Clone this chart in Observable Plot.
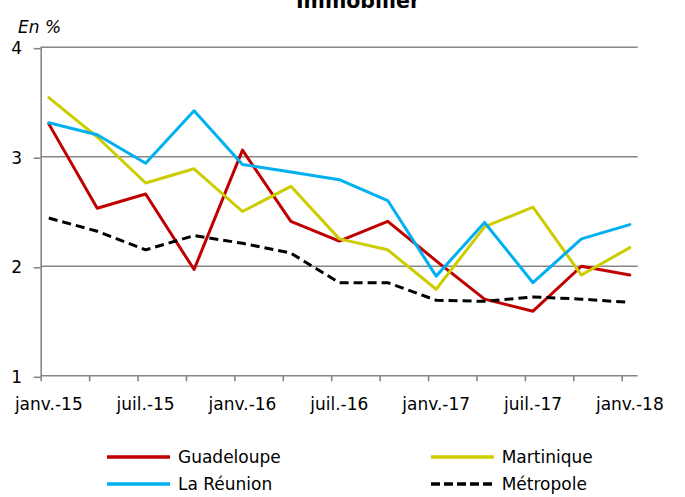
<!DOCTYPE html>
<html>
<head>
<meta charset="utf-8">
<script src="https://cdn.jsdelivr.net/npm/d3@7"></script>
<script src="https://cdn.jsdelivr.net/npm/@observablehq/plot@0.6"></script>
<style>
  html, body { margin: 0; padding: 0; background: #fff; }
  #wrap { position: relative; width: 685px; height: 497px; overflow: hidden; font-family: "DejaVu Sans", sans-serif; color: #000; }
  #chart { position: absolute; left: 0; top: 0; }
  #title { position: absolute; left: 358px; top: -9px; transform: translateX(-50%); font-size: 20.5px; line-height: 20px; font-weight: bold; white-space: nowrap; }
  #unit { position: absolute; left: 18px; top: 19px; font-size: 17px; line-height: 17px; font-style: italic; }
  #legend { position: absolute; left: 107px; top: 443px; display: grid; grid-template-columns: 323.7px 200px; grid-auto-rows: 27.3px; font-size: 17px; }
  .item { display: flex; align-items: center; white-space: nowrap; }
  .item svg { margin-right: 8px; }
</style>
</head>
<body>
<div id="wrap">
  <div id="chart"></div>
  <div id="title">Immobilier</div>
  <div id="unit">En %</div>
  <div id="legend"></div>
</div>
<script>
// Quarterly data, janv.-15 to janv.-18
const quarters = ["T1-15","T2-15","T3-15","T4-15","T1-16","T2-16","T3-16","T4-16","T1-17","T2-17","T3-17","T4-17","T1-18"];
const tickLabels = ["janv.-15","juil.-15","janv.-16","juil.-16","janv.-17","juil.-17","janv.-18"];
const seriesNames = ["Guadeloupe","Martinique","La Réunion","Métropole"];
const seriesColors = ["#C00000","#CCCC00","#00B0F0","#000000"];
const guadeloupe = [3.30,2.53,2.66,1.97,3.06,2.41,2.23,2.41,2.05,1.70,1.59,2.00,1.92];
const martinique = [3.54,3.18,2.76,2.89,2.50,2.73,2.25,2.15,1.79,2.36,2.54,1.92,2.17];
const reunion    = [3.31,3.20,2.94,3.42,2.93,2.86,2.79,2.60,1.91,2.40,1.85,2.25,2.38];
const metropole  = [2.44,2.32,2.15,2.28,2.21,2.12,1.85,1.85,1.69,1.68,1.72,1.70,1.67];
const yTicks = [1,2,3,4];

const valuesBySeries = [guadeloupe, martinique, reunion, metropole];
const rows = [];
seriesNames.forEach((s, k) => valuesBySeries[k].forEach((v, i) => rows.push({series: s, i, q: quarters[i], value: v})));

const off = 0.157; // points sit slightly right of the quarter tick marks
const grid = "#868686";
const solid = rows.filter(d => d.series !== "Métropole");
const dashed = rows.filter(d => d.series === "Métropole");

const plot = Plot.plot({
  width: 685,
  height: 420,
  marginLeft: 40.7,
  marginRight: 47.3,
  marginTop: 46.7,
  marginBottom: 44.7,
  style: {fontFamily: "DejaVu Sans, sans-serif", fontSize: "17px", color: "#000", background: "transparent"},
  x: {type: "linear", domain: [-off, 12 + 0.33 - off]},
  y: {domain: [1, 4]},
  color: {domain: seriesNames, range: seriesColors},
  marks: [
    Plot.ruleY(yTicks, {stroke: grid, strokeWidth: 1.6}),
    Plot.ruleX([-off], {y1: 1, y2: 4, stroke: grid, strokeWidth: 1.6}),
    Plot.axisY({ticks: yTicks, tickSize: 7, tickPadding: 12, stroke: grid, strokeWidth: 1.6, strokeOpacity: 1, tickFormat: d => String(d), dy: 1.5, label: null}),
    Plot.axisX({ticks: quarters.map((q, i) => i - off), tickSize: 6, stroke: grid, strokeWidth: 1.6, strokeOpacity: 1, tickFormat: () => "", label: null}),
    Plot.axisX({ticks: tickLabels.map((t, k) => 2 * k), tickSize: 0, tickPadding: 22, tickFormat: (d) => tickLabels[d / 2], label: null}),
    Plot.line(solid, {x: "i", y: "value", z: "series", stroke: "series", strokeWidth: 3, strokeLinejoin: "round", strokeLinecap: "round"}),
    Plot.line(dashed, {x: "i", y: "value", z: "series", stroke: "series", strokeWidth: 3, strokeDasharray: "9,5", strokeLinecap: "butt"})
  ]
});
document.getElementById("chart").appendChild(plot);

// Legend
const legend = document.getElementById("legend");
const order = [0, 1, 2, 3];
order.forEach(k => {
  const item = document.createElement("div");
  item.className = "item";
  const dash = seriesNames[k] === "Métropole" ? 'stroke-dasharray="9,4"' : "";
  item.innerHTML = `<svg width="63" height="6"><line x1="0" x2="63" y1="3" y2="3" stroke="${seriesColors[k]}" stroke-width="3.5" ${dash}/></svg><span>${seriesNames[k]}</span>`;
  legend.appendChild(item);
});
</script>
</body>
</html>
